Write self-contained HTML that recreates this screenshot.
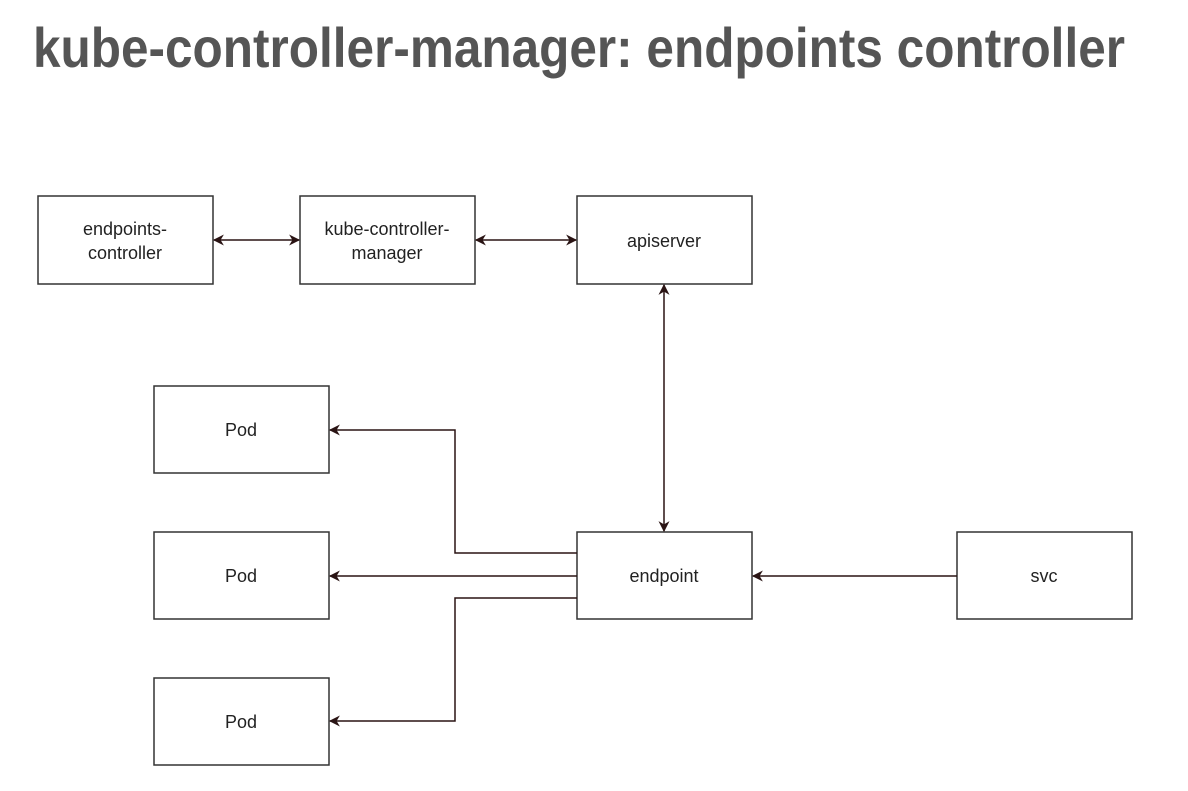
<!DOCTYPE html>
<html><head><style>
html,body{margin:0;padding:0;background:#fff;}
svg{display:block;}
</style></head><body>
<svg width="1188" height="791" viewBox="0 0 1188 791" xmlns="http://www.w3.org/2000/svg">
<defs>
<marker id="a" viewBox="0 0 10 10" refX="9" refY="5" markerWidth="12" markerHeight="11" orient="auto-start-reverse" markerUnits="userSpaceOnUse">
<path d="M0,0 L10,5 L0,10 L3,5 z" fill="#2a1414"/>
</marker>
</defs>
<text x="33" y="67" font-family="Liberation Sans, sans-serif" font-weight="bold" font-size="56" fill="#555" textLength="1092" lengthAdjust="spacingAndGlyphs">kube-controller-manager: endpoints controller</text>
<g fill="#fff" stroke="#333" stroke-width="1.5">
<rect x="38" y="196" width="175" height="88"/>
<rect x="300" y="196" width="175" height="88"/>
<rect x="577" y="196" width="175" height="88"/>
<rect x="154" y="386" width="175" height="87"/>
<rect x="154" y="532" width="175" height="87"/>
<rect x="154" y="678" width="175" height="87"/>
<rect x="577" y="532" width="175" height="87"/>
<rect x="957" y="532" width="175" height="87"/>
</g>
<g fill="none" stroke="#2a1414" stroke-width="1.5">
<line x1="214" y1="240" x2="299" y2="240" marker-start="url(#a)" marker-end="url(#a)"/>
<line x1="476" y1="240" x2="576" y2="240" marker-start="url(#a)" marker-end="url(#a)"/>
<line x1="664" y1="285" x2="664" y2="531" marker-start="url(#a)" marker-end="url(#a)"/>
<polyline points="577,553 455,553 455,430 330,430" marker-end="url(#a)"/>
<line x1="577" y1="576" x2="330" y2="576" marker-end="url(#a)"/>
<polyline points="577,598 455,598 455,721 330,721" marker-end="url(#a)"/>
<line x1="957" y1="576" x2="753" y2="576" marker-end="url(#a)"/>
</g>
<g font-family="Liberation Sans, Arial, sans-serif" font-size="18" fill="#222" text-anchor="middle">
<text x="125" y="235">endpoints-</text>
<text x="125" y="259">controller</text>
<text x="387" y="235">kube-controller-</text>
<text x="387" y="259">manager</text>
<text x="664" y="247">apiserver</text>
<text x="241" y="436">Pod</text>
<text x="241" y="582">Pod</text>
<text x="241" y="728">Pod</text>
<text x="664" y="582">endpoint</text>
<text x="1044" y="582">svc</text>
</g>
</svg>
</body></html>
